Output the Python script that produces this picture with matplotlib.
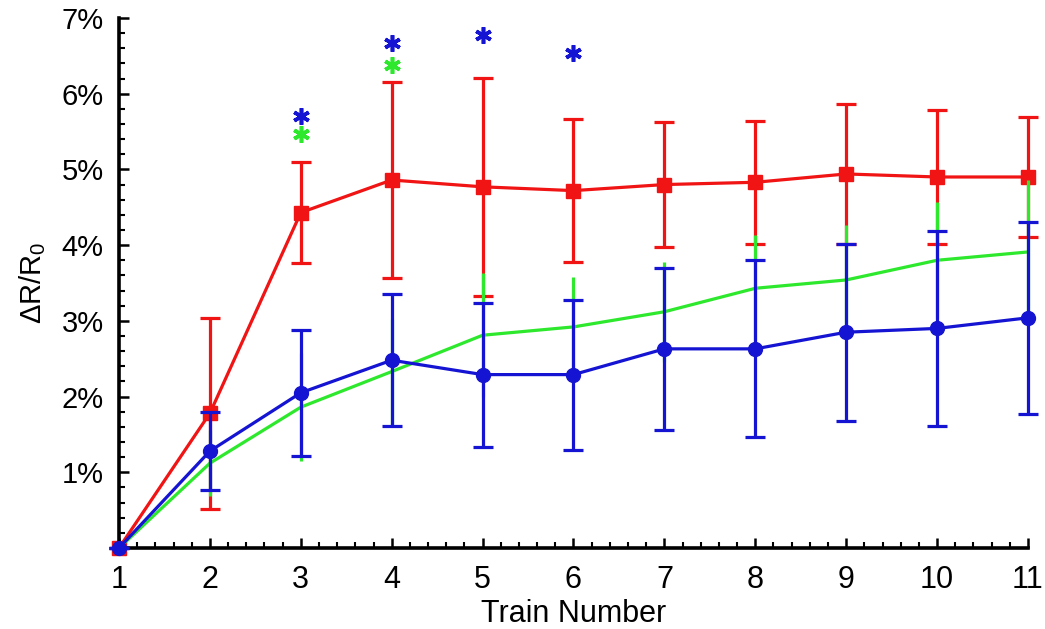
import numpy as np
import matplotlib
matplotlib.use('Agg')
import matplotlib.pyplot as plt
from matplotlib.ticker import MultipleLocator, FuncFormatter

plt.rcParams['font.family'] = ['Liberation Sans', 'DejaVu Sans']
plt.rcParams['mathtext.fontset'] = 'custom'
plt.rcParams['mathtext.rm'] = 'Liberation Sans'

trains = [1, 2, 3, 4, 5, 6, 7, 8, 9, 10, 11]

red_mean = [0, 1.78, 4.43, 4.86, 4.77, 4.72, 4.80, 4.83, 4.94, 4.90, 4.90]
red_err = [0, 1.26, 0.67, 1.30, 1.44, 0.94, 0.82, 0.81, 0.93, 0.88, 0.79]

green_mean = [0, 1.12, 1.86, 2.33, 2.81, 2.92, 3.12, 3.43, 3.54, 3.80, 3.91]
green_err = [0, 0.44, 0.71, 0.70, 0.82, 0.66, 0.66, 0.70, 0.73, 0.77, 0.95]

blue_mean = [0, 1.28, 2.05, 2.48, 2.29, 2.29, 2.63, 2.63, 2.85, 2.90, 3.04]
blue_err = [0, 0.52, 0.83, 0.87, 0.95, 0.99, 1.07, 1.17, 1.17, 1.29, 1.27]

# significance stars
blue_star_x = [3, 4, 5, 6]
blue_star_y = [5.71, 6.67, 6.78, 6.54]
green_star_x = [3, 4]
green_star_y = [5.47, 6.38]

red = '#f01414'
green = '#2ee82e'
blue = '#1414d2'

fig = plt.figure(figsize=(10.45, 6.29), dpi=100)
ax = fig.add_axes([0.1139, 0.1288, 0.8698, 0.8426])

ax.errorbar(trains, red_mean, yerr=red_err, color=red, lw=2.3, marker='s',
            ms=10, elinewidth=2.3, capsize=7, capthick=2.3, zorder=2, clip_on=False)
ax.errorbar(trains, green_mean, yerr=green_err, color=green, lw=2.3,
            elinewidth=2.3, capsize=0, zorder=3, clip_on=False)
ax.errorbar(trains, blue_mean, yerr=blue_err, color=blue, lw=2.3, marker='o',
            ms=10, elinewidth=2.3, capsize=7, capthick=2.3, zorder=4, clip_on=False)

ax.plot(blue_star_x, blue_star_y, ls='none', marker=(6, 2, 0), ms=12, mew=2.6,
        color=blue, clip_on=False)
ax.plot(green_star_x, green_star_y, ls='none', marker=(6, 2, 0), ms=12, mew=2.6,
        color=green, clip_on=False)

ax.set_xlim(1, 11)
ax.set_ylim(0, 7)
ax.xaxis.set_major_locator(MultipleLocator(1))
ax.xaxis.set_minor_locator(MultipleLocator(0.2))
ax.yaxis.set_major_locator(MultipleLocator(1))
ax.yaxis.set_minor_locator(MultipleLocator(0.2))
ax.yaxis.set_major_formatter(FuncFormatter(lambda v, p: '' if v == 0 else '%d%%' % v))

for s in ['top', 'right']:
    ax.spines[s].set_visible(False)
for s in ['left', 'bottom']:
    ax.spines[s].set_linewidth(2.6)

ax.tick_params(which='major', direction='in', length=7, width=1.8)
ax.tick_params(which='minor', direction='in', length=4, width=1.5)
ax.tick_params(axis='x', labelsize=22, pad=12)
ax.tick_params(axis='y', labelsize=21, pad=11)

ax.set_xlabel('Train Number', fontsize=22, labelpad=3)
ax.set_ylabel('ΔR/R$_0$', fontsize=21, labelpad=10)

fig.savefig('out.png', dpi=100)
